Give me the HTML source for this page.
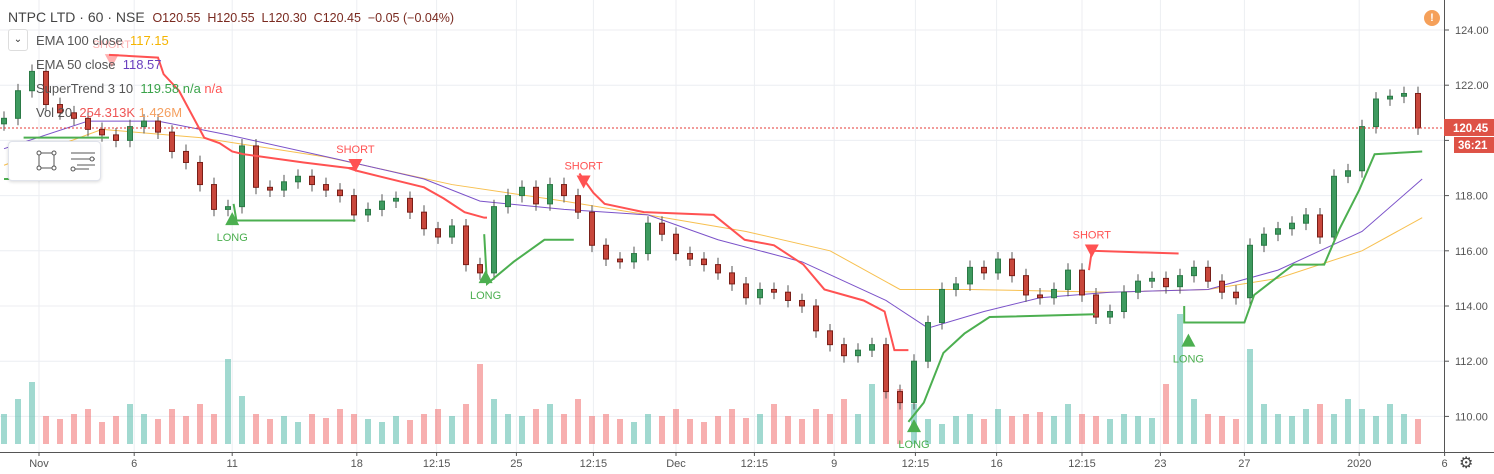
<!DOCTYPE html>
<html><head><meta charset="utf-8">
<style>
body{margin:0;background:#fff;font-family:"Liberation Sans",sans-serif;}
#wrap{position:relative;width:1494px;height:474px;overflow:hidden;background:#fff}
.t{position:absolute;font-size:13px;color:#555;white-space:nowrap}
</style></head><body>
<div id="wrap">
<svg id="svg" width="1494" height="474" style="position:absolute;left:0;top:0"></svg>
<div class="t" style="left:8px;top:9px;font-size:14px;color:#444">NTPC LTD · 60 · NSE &nbsp;<span style="font-size:12.5px;color:#7a2a20">O120.55 &nbsp;H120.55 &nbsp;L120.30 &nbsp;C120.45 &nbsp;−0.05 (−0.04%)</span></div>
<div style="position:absolute;left:8px;top:29px;width:18px;height:20px;border:1px solid #ddd;border-radius:3px;background:#fff;font-size:10px;text-align:center;line-height:20px;color:#333">⌄</div>
<div class="t" style="left:36px;top:33px">EMA 100 close &nbsp;<span style="color:#f5b400">117.15</span></div>
<div class="t" style="left:36px;top:57px">EMA 50 close &nbsp;<span style="color:#6a3fbf">118.57</span></div>
<div class="t" style="left:36px;top:81px">SuperTrend 3 10 &nbsp;<span style="color:#3aa34a">119.58 n/a</span> <span style="color:#f55">n/a</span></div>
<div class="t" style="left:36px;top:105px">Vol 20 &nbsp;<span style="color:#e55">254.313K</span> <span style="color:#f5a060">1.426M</span></div>
<div style="position:absolute;left:8px;top:141px;width:91px;height:38px;border:1px solid #e0e3eb;border-radius:4px;background:#fff;box-shadow:0 1px 3px rgba(0,0,0,.15)">
 <div style="position:absolute;left:24px;top:6px;width:26px;height:26px"><svg width="26" height="26"><rect x="6" y="5" width="15" height="15" fill="none" stroke="#555"/><circle cx="6" cy="5" r="2" fill="#fff" stroke="#555"/><circle cx="21" cy="5" r="2" fill="#fff" stroke="#555"/><circle cx="6" cy="20" r="2" fill="#fff" stroke="#555"/><circle cx="21" cy="20" r="2" fill="#fff" stroke="#555"/></svg></div>
 <div style="position:absolute;left:60px;top:6px;width:28px;height:26px"><svg width="28" height="26"><path d="M2 5H26M2 11H26M8 17H26M2 21H20" stroke="#555" fill="none"/><circle cx="23" cy="11" r="2" fill="#fff" stroke="#555"/><circle cx="4" cy="21" r="2" fill="#fff" stroke="#555"/></svg></div>
</div>
<div style="position:absolute;left:1424px;top:10px;width:16px;height:16px;border-radius:50%;background:#f5a05a;color:#fff;font-size:11px;font-weight:bold;text-align:center;line-height:16px">!</div>
<div style="position:absolute;left:1459px;top:453px;font-size:16px;color:#444">⚙</div>
</div>
<script>
const closes=[120.8,121.8,122.5,121.3,121,120.8,120.4,120.2,120,120.5,120.7,120.3,119.6,119.2,118.4,117.5,117.6,119.8,118.3,118.2,118.5,118.7,118.4,118.2,118,117.3,117.5,117.8,117.9,117.4,116.8,116.5,116.9,115.5,115.2,117.6,118,118.3,117.7,118.4,118,117.4,116.2,115.7,115.6,115.9,117,116.6,115.9,115.7,115.5,115.2,114.8,114.3,114.6,114.5,114.2,114,113.1,112.6,112.2,112.4,112.6,110.9,110.5,112,113.4,114.6,114.8,115.4,115.2,115.7,115.1,114.4,114.3,114.6,115.3,114.4,113.6,113.8,114.5,114.9,115,114.7,115.1,115.4,114.9,114.5,114.3,116.2,116.6,116.8,117,117.3,116.5,118.7,118.9,120.5,121.5,121.6,121.7,120.45];
const volumes=[30,45,62,28,25,30,35,22,28,40,30,25,35,28,40,30,85,48,30,25,28,22,30,26,35,30,25,22,28,24,30,35,28,40,80,45,30,28,35,40,30,45,28,30,25,22,30,28,35,25,22,28,35,26,30,40,28,25,35,30,45,30,60,75,55,40,25,20,28,30,25,35,28,30,32,28,40,30,28,25,30,28,26,60,130,45,30,28,25,95,40,30,28,35,40,30,45,35,28,40,30,25];
const ema50Idx=[0,6,11,16,24,30,34,40,46,51,57,63,66,70,74,79,86,91,97,101.3];
const ema50=[119.7,120.7,120.7,120.2,119.3,118.6,117.8,117.5,117.3,116.4,115.6,114.2,113.2,113.8,114.3,114.5,114.6,115.3,116.7,118.6];
const ema100Idx=[0,7,14,23,32,40,46,53,59,64,69,79,86,91,97,101.3];
const ema100=[119.1,120.4,120.1,119.4,118.4,117.8,117.3,116.7,116,114.6,114.6,114.5,114.6,115,116,117.2];
const stSegs=[
 {c:'#4caf50',i:[0,1.4],v:[118.6,118.6]},
 {c:'#4caf50',i:[1.4,7.5],v:[120.1,120.1]},
 {c:'#ff5252',i:[7.5,11,11.4,12.5,14.3,15.4,16.3,17.1,21.4,24.6,25.1],v:[123.1,123,122.4,121.8,120.1,119.9,119.6,119.5,119.2,119,119]},
 {c:'#4caf50',i:[16.4,16.6,25.1],v:[117.7,117.1,117.1]},
 {c:'#ff5252',i:[24.6,25.2,30,31.4,32.9,34.3,34.5],v:[119,118.9,118.3,117.9,117.4,117.2,117.2]},
 {c:'#4caf50',i:[34.3,34.5,36.4,38.6,40.7],v:[116.6,114.8,115.6,116.4,116.4]},
 {c:'#ff5252',i:[41.1,42.1,42.9,45.7,50.7,52.9,55,57.1,58.6,61.4,62.9,63.6,64.6],v:[118.8,118.1,117.7,117.4,117.3,116.4,116.2,115.5,114.6,114.2,113.8,112.4,112.4]},
 {c:'#4caf50',i:[64.6,65.7,67.1,68.6,70.4,77.9],v:[109.8,110.5,112.3,113,113.6,113.7]},
 {c:'#ff5252',i:[77.5,77.7,83.9],v:[115.3,116,115.9]},
 {c:'#4caf50',i:[84.3,84.3,88.6,89.3,92.1,94.3,95.4,96.8,97.9,101.3],v:[114,113.4,113.4,114.4,115.5,115.5,116.8,118.2,119.5,119.6]}];
const signals=[{t:'SHORT',i:7.7,v:123.2,ty:'s',f:0.45},{t:'LONG',i:16.3,v:117.4,ty:'l'},{t:'SHORT',i:25.1,v:119.4,ty:'s'},{t:'LONG',i:34.4,v:115.3,ty:'l'},{t:'SHORT',i:41.4,v:118.8,ty:'s'},{t:'LONG',i:65,v:109.9,ty:'l'},{t:'SHORT',i:77.7,v:116.3,ty:'s'},{t:'LONG',i:84.6,v:113,ty:'l'}];
const priceTicks=[124,122,120,118,116,114,112,110];
const timeLabels=['Nov','6','11','18','12:15','25','12:15','Dec','12:15','9','12:15','16','12:15','23','27','2020','6'];
const timeIdx=[2.5,9.3,16.3,25.2,30.9,36.6,42.1,48,53.6,59.3,65.1,70.9,77,82.6,88.6,96.8,102.9];
const lastPrice=120.45;

const NS='http://www.w3.org/2000/svg',svg=document.getElementById('svg');
const X=i=>4+i*14, Y=p=>30+(124-p)*27.6, PW=1444;
function el(n,a,p){const e=document.createElementNS(NS,n);for(const k in a)e.setAttribute(k,a[k]);(p||svg).appendChild(e);return e;}
const grid=el('g',{});
priceTicks.forEach(p=>{el('line',{x1:0,x2:PW,y1:Y(p),y2:Y(p),stroke:'#eceef2'},grid);});
timeIdx.forEach(i=>{el('line',{x1:X(i),x2:X(i),y1:0,y2:452,stroke:'#eceef2'},grid);});
const vg=el('g',{});
volumes.forEach((v,k)=>{const up=k==0||closes[k]>=closes[k-1];
 const r=el('rect',{x:X(k)-3,y:444-v,width:6,height:v,fill:up?'rgba(83,185,170,0.55)':'rgba(240,110,110,0.55)'},vg);
 });
function line(ix,vs,c,w,name){const d=ix.map((i,k)=>(k?'L':'M')+X(i)+' '+Y(vs[k])).join('');const p=el('path',{d:d,stroke:c,'stroke-width':w,fill:'none'});}
line(ema100Idx,ema100,'#f7c050',1,'ema-100-line');
line(ema50Idx,ema50,'#7b52c9',1,'ema-50-line');
const cg=el('g',{});
closes.forEach((c,k)=>{const o=k?closes[k-1]:c-0.2;const up=c>=o;const hi=Math.max(o,c)+0.25,lo=Math.min(o,c)-0.25;
 const g=el('g',{},cg);
 const col=up?'#2b7a46':'#7a1f18';
 el('line',{x1:X(k),x2:X(k),y1:Y(hi),y2:Y(lo),stroke:'#555'},g);
 el('rect',{x:X(k)-2.5,y:Y(Math.max(o,c)),width:5,height:Math.max(1,Math.abs(Y(o)-Y(c))),fill:up?'#3e9a5f':'#c8473c',stroke:col,'stroke-width':1},g);});
stSegs.forEach(s=>line(s.i,s.v,s.c,2,'supertrend-line'));
signals.forEach(s=>{const g=el('g',{opacity:s.f||1});
 const x=X(s.i),y=Y(s.v);
 if(s.ty=='s'){el('text',{x:x,y:y-4,'text-anchor':'middle','font-size':11,fill:'#ff5252','font-family':'Liberation Sans'},g).textContent=s.t;
  el('path',{d:`M${x-7} ${y+2}L${x+7} ${y+2}L${x} ${y+15}Z`,fill:'#ff5252'},g);}
 else{el('path',{d:`M${x-7} ${y+13}L${x+7} ${y+13}L${x} ${y}Z`,fill:'#4caf50'},g);
  el('text',{x:x,y:y+29,'text-anchor':'middle','font-size':11,fill:'#4caf50','font-family':'Liberation Sans'},g).textContent=s.t;}});
const lp=el('line',{x1:0,x2:PW,y1:Y(lastPrice),y2:Y(lastPrice),stroke:'#e53935','stroke-dasharray':'2,2'});
const ax=el('g',{});
el('rect',{x:PW,y:0,width:50,height:474,fill:'#fff'},ax);
el('line',{x1:PW+0.5,x2:PW+0.5,y1:0,y2:452,stroke:'#555'},ax);
priceTicks.forEach(p=>{el('line',{x1:PW,x2:PW+5,y1:Y(p),y2:Y(p),stroke:'#555'},ax);
 const t=el('text',{x:PW+11,y:Y(p)+4,'font-size':11,fill:'#555','font-family':'Liberation Sans'},ax);t.textContent=p.toFixed(2);});
el('rect',{x:PW,y:Y(lastPrice)-9,width:50,height:17,fill:'#de5246'},ax);
el('text',{x:PW+9,y:Y(lastPrice)+4,'font-size':11.5,'font-weight':'bold',fill:'#fff','font-family':'Liberation Sans'},ax).textContent=lastPrice.toFixed(2);
el('rect',{x:PW+10,y:Y(lastPrice)+9,width:40,height:16,fill:'#de5246'},ax);
el('text',{x:PW+14,y:Y(lastPrice)+21,'font-size':11.5,'font-weight':'bold',fill:'#fff','font-family':'Liberation Sans'},ax).textContent='36:21';
const tx=el('g',{});
el('line',{x1:0,x2:1494,y1:452.5,y2:452.5,stroke:'#555'},tx);
timeLabels.forEach((l,k)=>{el('line',{x1:X(timeIdx[k]),x2:X(timeIdx[k]),y1:452,y2:456,stroke:'#555'},tx);
 const t=el('text',{x:X(timeIdx[k]),y:467,'text-anchor':'middle','font-size':11,fill:'#555','font-family':'Liberation Sans'},tx);t.textContent=l;});
</script>
</body></html>
